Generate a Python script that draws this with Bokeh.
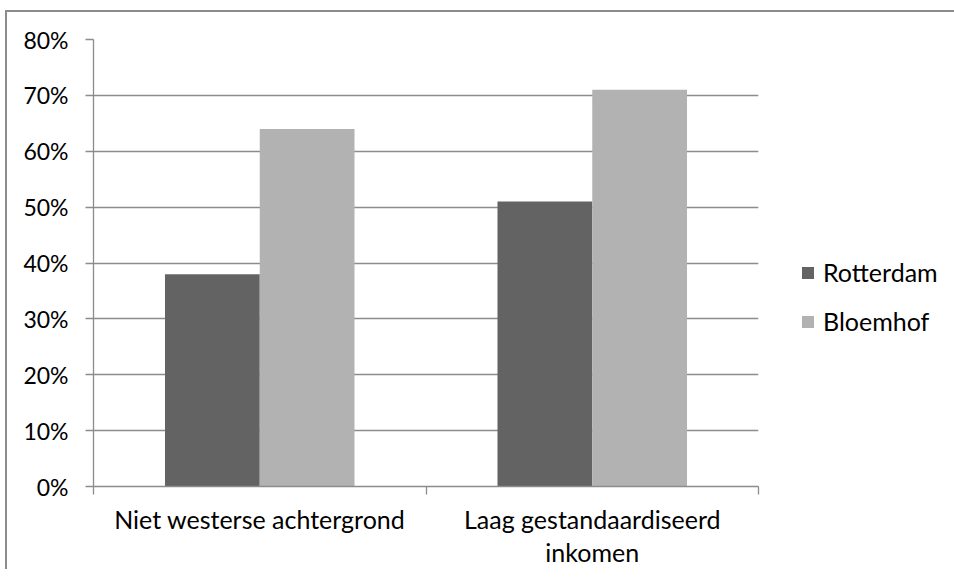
from bokeh.plotting import figure
from bokeh.models import (ColumnDataSource, Range1d, LinearAxis,
                          FixedTicker, NumeralTickFormatter, Legend, LegendItem)
from bokeh.transform import dodge
from bokeh.embed import file_html
from bokeh.resources import INLINE

categories = ["Niet westerse achtergrond", "Laag gestandaardiseerd\ninkomen"]
series_names = ["Rotterdam", "Bloemhof"]
rotterdam = [0.38, 0.51]
bloemhof = [0.64, 0.71]
y_ticks = [0.0, 0.1, 0.2, 0.3, 0.4, 0.5, 0.6, 0.7, 0.8]

colors = ["#636363", "#b2b2b2"]
grey = "#8c8c8c"
FONT = "Lato"
FS_Y = "23px"
FS = "25px"

n = len(categories)
centers = [i + 0.5 for i in range(n)]
edges = list(range(n + 1))

source = ColumnDataSource(dict(pos=centers, rotterdam=rotterdam, bloemhof=bloemhof))

p = figure(x_range=Range1d(0, n),
           y_range=Range1d(y_ticks[0], y_ticks[-1]),
           frame_width=665, frame_height=447,
           min_border_left=86, min_border_right=195, min_border_top=27, min_border_bottom=77,
           x_axis_location=None, toolbar_location=None, output_backend="svg",
           background_fill_color="white", border_fill_color="white")
p.outline_line_color = None
p.styles = {"position": "relative", "left": "5px", "top": "10px",
            "border-left": "2px solid " + grey, "border-top": "2px solid " + grey}

bw = 0.285
r1 = p.vbar(x=dodge("pos", -bw / 2), top="rotterdam", width=bw,
            source=source, fill_color=colors[0], line_color=None)
r2 = p.vbar(x=dodge("pos", bw / 2), top="bloemhof", width=bw,
            source=source, fill_color=colors[1], line_color=None)

# y axis
ya = p.yaxis[0]
ya.ticker = FixedTicker(ticks=y_ticks)
ya.formatter = NumeralTickFormatter(format="0%")
ya.axis_line_color = grey
ya.axis_line_width = 1.3
ya.major_tick_line_color = grey
ya.major_tick_line_width = 1.3
ya.major_tick_out = 8
ya.major_tick_in = 0
ya.minor_tick_line_color = None
ya.major_label_standoff = 17
ya.major_label_text_font = FONT
ya.major_label_text_font_size = FS_Y
ya.major_label_text_color = "black"

p.ygrid.ticker = FixedTicker(ticks=y_ticks)
p.ygrid.grid_line_color = grey
p.ygrid.grid_line_width = 1.3
p.xgrid.grid_line_color = None

# boundary tick axis
tick_axis = LinearAxis(ticker=FixedTicker(ticks=edges),
                       axis_line_color=grey, axis_line_width=1.3,
                       major_tick_line_color=grey, major_tick_line_width=1.3,
                       major_tick_out=8, major_tick_in=0, minor_tick_line_color=None,
                       major_label_text_font_size="1px", major_label_text_alpha=0,
                       major_label_standoff=0)
p.add_layout(tick_axis, "below")

cat_axis = LinearAxis(ticker=FixedTicker(ticks=centers),
                      major_label_overrides={c: lab for c, lab in zip(centers, categories)},
                      axis_line_color=None, major_tick_line_color=None,
                      minor_tick_line_color=None,
                      major_tick_out=0, major_tick_in=0,
                      major_label_standoff=9,
                      major_label_text_font=FONT, major_label_text_font_size=FS,
                      major_label_text_line_height=1.1,
                      major_label_text_color="black")
p.add_layout(cat_axis, "below")

legend = Legend(items=[LegendItem(label=series_names[0], renderers=[r1]),
                       LegendItem(label=series_names[1], renderers=[r2])],
                location=(42, 150), orientation="vertical",
                margin=0, padding=0, spacing=19,
                glyph_width=15, glyph_height=15, label_standoff=8,
                label_text_font=FONT, label_text_font_size=FS, label_text_color="black",
                border_line_color=None, background_fill_alpha=0)
p.add_layout(legend, "right")

open("out.html", "w").write(file_html(p, INLINE))
